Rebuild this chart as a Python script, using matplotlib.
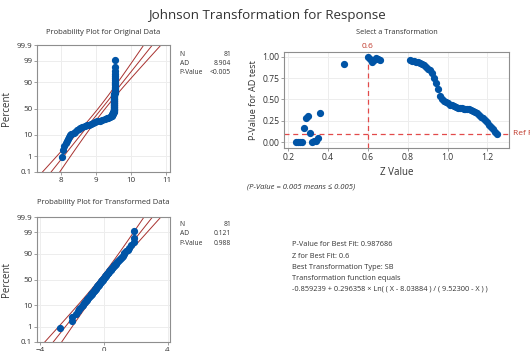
import numpy as np
import matplotlib
matplotlib.use('Agg')
from matplotlib import pyplot as plt
from statistics import NormalDist

plt.rcParams['font.family'] = ['Open Sans', 'DejaVu Sans']

# original data, sorted
original = [
    8.040, 8.065, 8.090, 8.130, 8.160, 8.190, 8.220, 8.250, 8.300, 8.370,
    8.410, 8.450, 8.500, 8.540, 8.600, 8.680, 8.740, 8.800, 8.860, 8.920,
    8.970, 9.030, 9.100, 9.170, 9.240, 9.300, 9.350, 9.390, 9.420, 9.440,
    9.455, 9.465, 9.475, 9.485, 9.492, 9.498, 9.503, 9.507, 9.510, 9.512,
    9.514, 9.515, 9.516, 9.517, 9.518, 9.518, 9.519, 9.519, 9.520, 9.520,
    9.520, 9.521, 9.521, 9.521, 9.521, 9.522, 9.522, 9.522, 9.522, 9.522,
    9.522, 9.522, 9.523, 9.523, 9.523, 9.523, 9.523, 9.523, 9.523, 9.523,
    9.523, 9.523, 9.523, 9.523, 9.523, 9.523, 9.523, 9.523, 9.523, 9.523,
    9.523,
]
# transformed data, sorted
transformed = [
    -2.75, -2.00, -1.96, -1.72, -1.62, -1.55, -1.45, -1.38, -1.30, -1.22,
    -1.18, -1.10, -1.05, -1.02, -0.98, -0.92, -0.86, -0.82, -0.79, -0.75,
    -0.70, -0.67, -0.63, -0.60, -0.56, -0.52, -0.49, -0.46, -0.42, -0.39,
    -0.36, -0.33, -0.30, -0.27, -0.24, -0.21, -0.18, -0.15, -0.12, -0.08,
    -0.05, -0.02, 0.02, 0.05, 0.08, 0.11, 0.14, 0.17, 0.20, 0.23,
    0.27, 0.30, 0.33, 0.36, 0.40, 0.43, 0.47, 0.51, 0.55, 0.59,
    0.63, 0.67, 0.71, 0.76, 0.80, 0.85, 0.91, 0.97, 1.02, 1.08,
    1.14, 1.20, 1.25, 1.28, 1.40, 1.50, 1.58, 1.68, 1.88, 1.90,
    1.92,
]
# normal fit (mean, stdev) shown by the red lines
orig_fit = (9.16, 0.466)
trans_fit = (-0.05, 1.005)

orig_stats = [('N', '81'), ('AD', '8.904'), ('P-Value', '<0.005')]
trans_stats = [('N', '81'), ('AD', '0.121'), ('P-Value', '0.988')]

# z search
z_values = [0.24, 0.25, 0.26, 0.27, 0.28, 0.29, 0.30, 0.31, 0.32, 0.33,
            0.34, 0.35, 0.36, 0.48, 0.60, 0.61, 0.62, 0.63, 0.64, 0.65, 0.66]
p_values = [0.003, 0.002, 0.002, 0.003, 0.163, 0.287, 0.307, 0.105, 0.008, 0.010,
            0.018, 0.045, 0.339, 0.918, 0.996, 0.975, 0.942, 0.955, 0.985, 0.975, 0.961]
z_values += [round(0.81 + 0.01 * i, 2) for i in range(45)]
p_values += [0.955, 0.952, 0.947, 0.940, 0.935, 0.925, 0.915, 0.900, 0.880, 0.860,
             0.838, 0.808, 0.750, 0.690, 0.620, 0.545, 0.505, 0.485, 0.470, 0.455,
             0.440, 0.430, 0.420, 0.412, 0.405, 0.400, 0.397, 0.393, 0.390, 0.388,
             0.386, 0.380, 0.370, 0.355, 0.338, 0.320, 0.300, 0.278, 0.255, 0.232,
             0.205, 0.175, 0.150, 0.120, 0.092]
best_z = 0.6
ref_p = 0.1

pct_ticks = [0.1, 1, 10, 50, 90, 99, 99.9]
pct_labels = ['0.1', '1', '10', '50', '90', '99', '99.9']

blue = '#0054A6'
fit_red = '#A8312F'
ref_red = '#E24A4A'
spine_grey = '#8E8E8E'
grid_grey = '#EDEDED'
txt = '#333333'

W, H = 530, 351
nd = NormalDist()


def box(l, t, r, b):
    return [l / W, 1 - b / H, (r - l) / W, (b - t) / H]


def ftext(x, y, s, **kw):
    fig.text(x / W, 1 - y / H, s, **kw)


def style(ax, fs):
    for sp in ax.spines.values():
        sp.set_color(spine_grey)
        sp.set_linewidth(0.8)
    ax.grid(True, color=grid_grey, lw=0.7)
    ax.set_axisbelow(True)
    ax.tick_params(labelsize=fs, length=2, width=0.6, color=spine_grey, pad=1.5, labelcolor=txt)


def prob_plot(ax, data, fit, xlim, xticks):
    n = len(data)
    zq = [nd.inv_cdf((i + 1 - 0.3) / (n + 0.4)) for i in range(n)]
    mu, sd = fit
    zz = np.linspace(-3.3, 3.3, 100)
    se = sd * np.sqrt(1 / n + zz ** 2 / (2 * (n - 1)))
    ax.plot(mu + zz * sd, zz, color=fit_red, lw=0.7)
    ax.plot(mu + zz * sd - 1.96 * se, zz, color=fit_red, lw=0.7)
    ax.plot(mu + zz * sd + 1.96 * se, zz, color=fit_red, lw=0.7)
    ax.plot(data, zq, 'o', color=blue, ms=4.2, mec=blue, zorder=3)
    ax.set_ylim(nd.inv_cdf(0.001), nd.inv_cdf(0.999))
    ax.set_yticks([nd.inv_cdf(p / 100) for p in pct_ticks])
    ax.set_yticklabels(pct_labels)
    ax.set_xlim(*xlim)
    ax.set_xticks(xticks)
    style(ax, 5.8)
    ax.set_ylabel('Percent', fontsize=7, color=txt, labelpad=3)


fig = plt.figure(figsize=(W / 100, H / 100), dpi=100)

ftext(267, 15, 'Johnson Transformation for Response', ha='center', va='center',
      fontsize=9.6, color=txt)

ax1 = fig.add_axes(box(37, 45, 170, 172))
prob_plot(ax1, original, orig_fit, (7.32, 11.1), [8, 9, 10, 11])
ftext(103, 33, 'Probability Plot for Original Data', ha='center', va='center', fontsize=5.5, color=txt)

ax2 = fig.add_axes(box(37, 217, 170, 342))
prob_plot(ax2, transformed, trans_fit, (-4.17, 4.15), [-4, 0, 4])
ftext(103, 202, 'Probability Plot for Transformed Data', ha='center', va='center', fontsize=5.5, color=txt)

for stats, top in [(orig_stats, 54), (trans_stats, 224.5)]:
    for k, (lab, val) in enumerate(stats):
        y = top + k * 9.4
        ftext(179.5, y, lab, ha='left', va='center', fontsize=4.9, color=txt)
        ftext(231, y, val, ha='right', va='center', fontsize=4.9, color=txt)

ax3 = fig.add_axes(box(284.3, 52.3, 509.3, 147.7))
ax3.plot(z_values, p_values, 'o', color=blue, ms=4.2, mec=blue, zorder=3)
ax3.axhline(ref_p, color=ref_red, lw=0.9, ls=(0, (4, 3)))
ax3.axvline(best_z, color=ref_red, lw=0.9, ls=(0, (4, 3)))
ax3.set_xlim(0.18, 1.31)
ax3.set_ylim(-0.063, 1.05)
ax3.set_xticks([0.2, 0.4, 0.6, 0.8, 1.0, 1.2])
ax3.set_xticklabels(['0.2', '0.4', '0.6', '0.8', '1.0', '1.2'])
ax3.set_yticks([0, 0.25, 0.5, 0.75, 1.0])
ax3.set_yticklabels(['0.00', '0.25', '0.50', '0.75', '1.00'])
style(ax3, 6.2)
ax3.set_xlabel('Z Value', fontsize=7, color=txt, labelpad=4)
ax3.set_ylabel('P-Value for AD test', fontsize=6.6, color=txt, labelpad=3)
ax3.text(best_z, 1.075, '0.6', ha='center', va='bottom', fontsize=6, color='#C0392B')
ax3.text(1.015, ref_p, 'Ref P', transform=ax3.get_yaxis_transform(), ha='left', va='center',
         fontsize=6, color='#C0392B', clip_on=False)
ftext(397, 32, 'Select a Transformation', ha='center', va='center', fontsize=5.3, color=txt)
ftext(247, 186.5, '(P-Value = 0.005 means \u2264 0.005)', ha='left', va='center', fontsize=5.5,
      style='italic', color=txt)

notes = ['P-Value for Best Fit: 0.987686',
         'Z for Best Fit: 0.6',
         'Best Transformation Type: SB',
         'Transformation function equals',
         '-0.859239 + 0.296358 \u00d7 Ln( ( X - 8.03884 ) / ( 9.52300 - X ) )']
for k, line in enumerate(notes):
    ftext(292, 245 + k * 11.1, line, ha='left', va='center', fontsize=5.3, color=txt)

fig.savefig('out.png', dpi=100)
